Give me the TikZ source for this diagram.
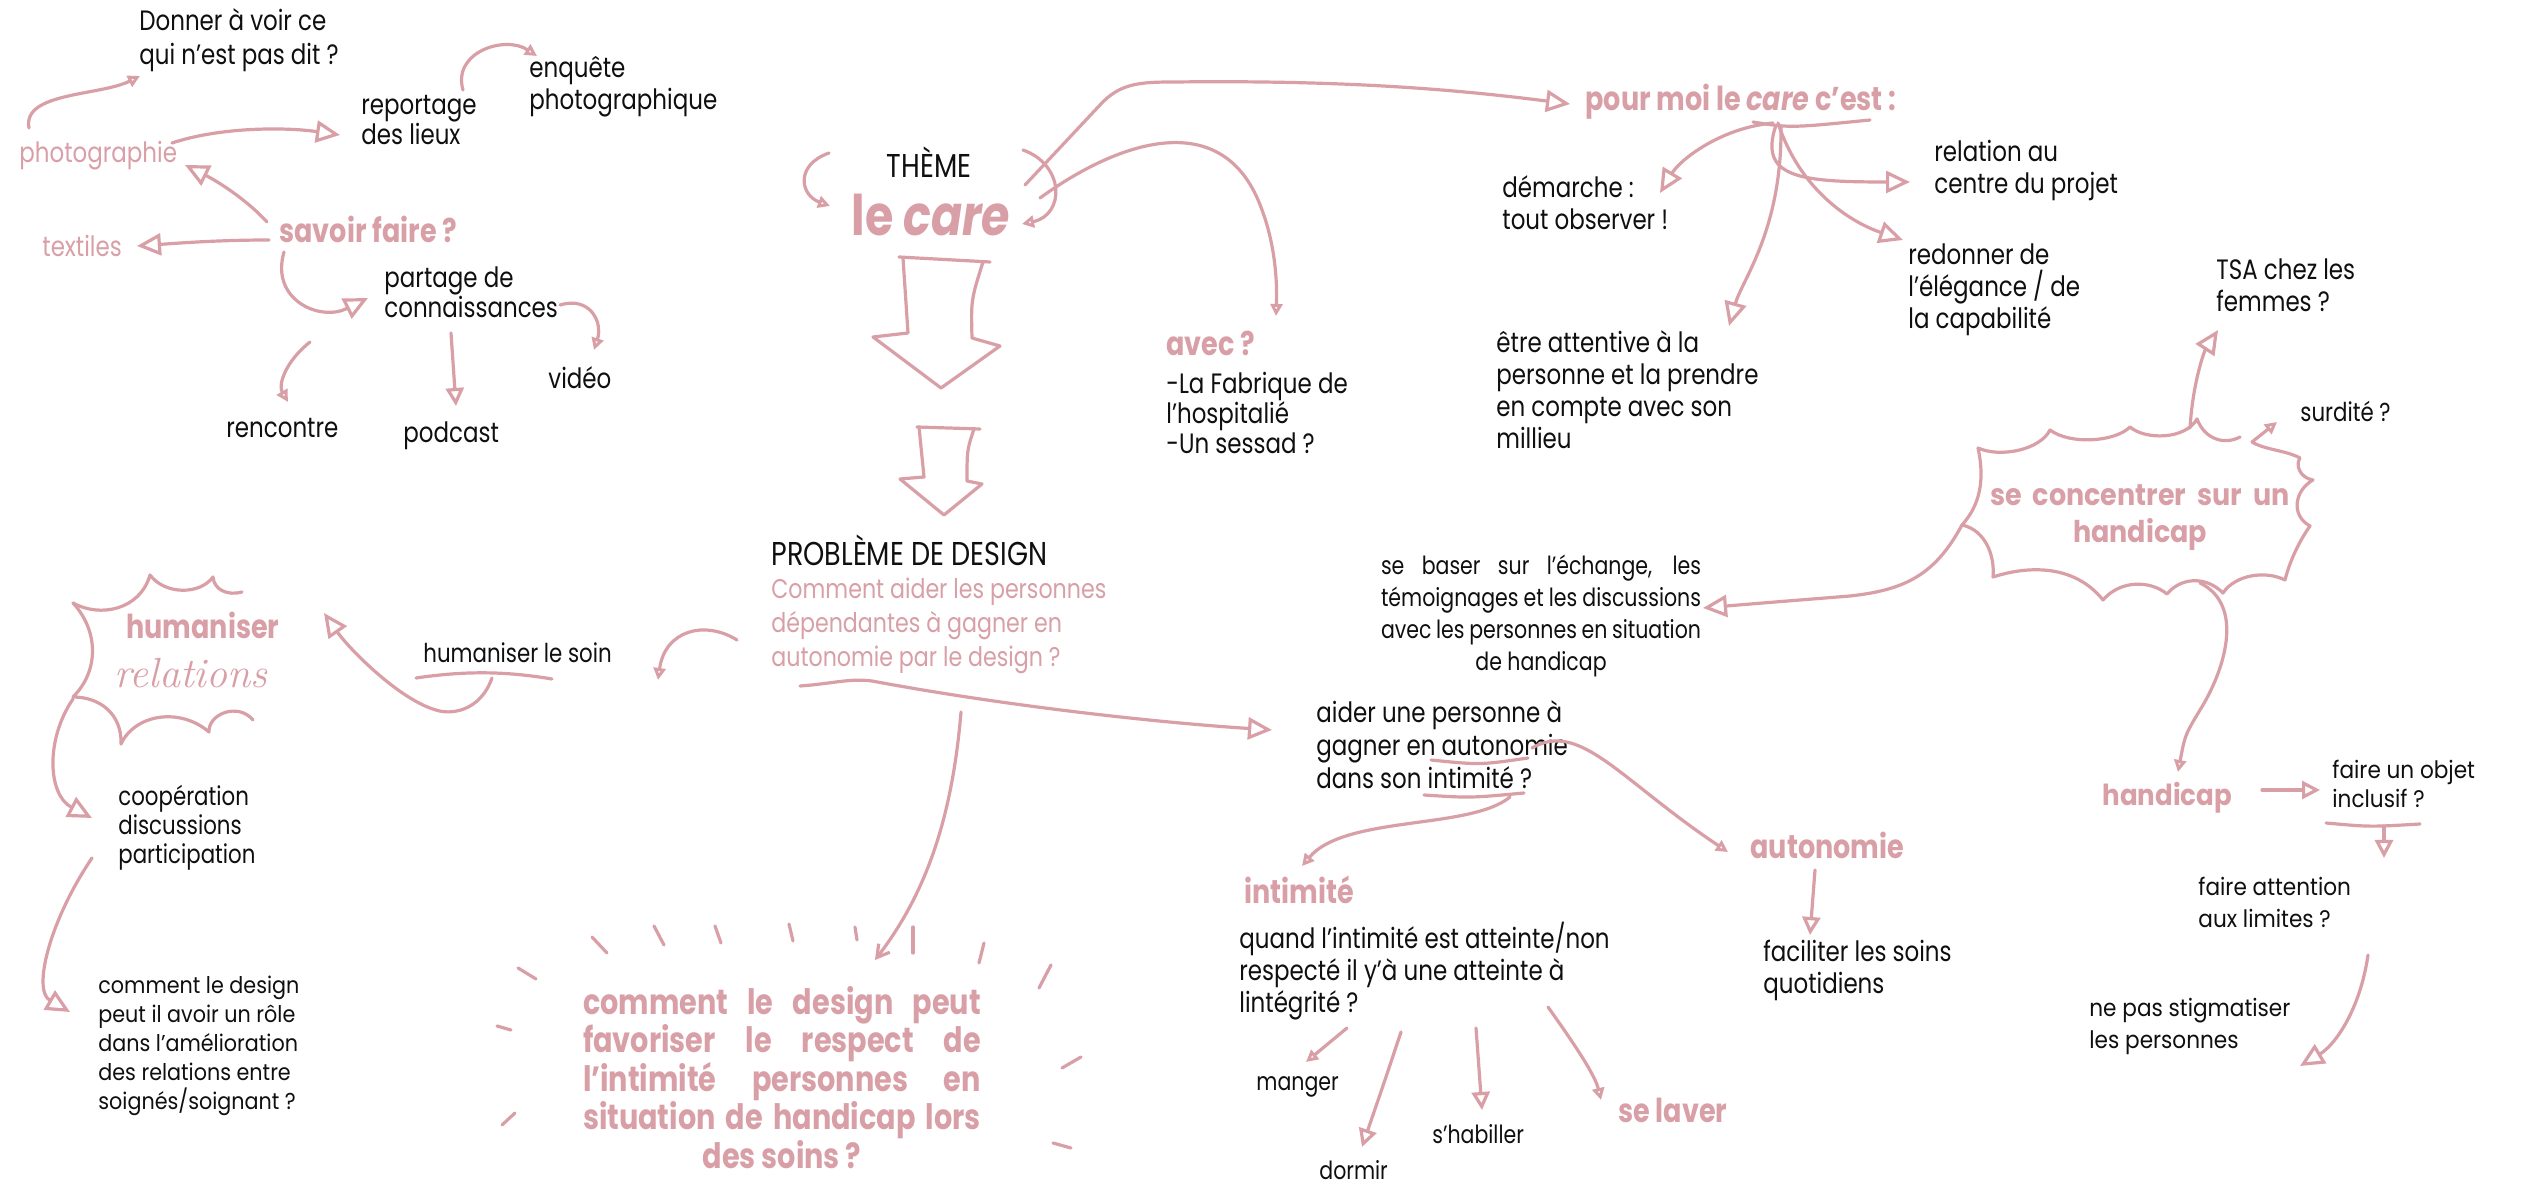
\documentclass[tikz,border=0pt]{standalone}
\usepackage{fontspec}
\newfontfamily\fc[FakeStretch=0.82]{Poppins}
\newfontfamily\fm[FakeStretch=0.9]{Poppins}
\usetikzlibrary{arrows.meta}
\definecolor{pk}{RGB}{217,159,167}
\definecolor{ink}{RGB}{15,15,15}
\tikzset{
  ln/.style={draw=pk, line width=1.6pt, line cap=round, line join=round},
  bigtip/.style={-{Triangle[open,length=12pt,width=11pt]}},
  midtip/.style={-{Triangle[open,length=9pt,width=9pt]}},
  smtip/.style={-{Triangle[open,length=6pt,width=6pt]}},
  vtip/.style={-{Straight Barb[length=6pt,width=7pt]}},
  tx/.style={inner sep=0pt, text=ink, align=left, font=\fc\fontsize{14}{16}\selectfont},
  txw/.style={inner sep=0pt, text=ink, align=left, font=\fm\fontsize{11.5}{14.5}\selectfont},
  pr/.style={inner sep=0pt, text=pk, align=left, font=\fc\fontsize{14}{17}\selectfont},
  pb/.style={inner sep=0pt, text=pk, align=left, font=\fc\bfseries\fontsize{16.5}{19}\selectfont},
  tick/.style={draw=pk, line width=1.6pt, line cap=round}
}
\begin{document}
\begin{tikzpicture}[x=0.5pt,y=-0.5pt]
\useasboundingbox (0,0) rectangle (2529,1186);
\fill[white] (0,0) rectangle (2529,1186);

% ---------- top-left cluster ----------
\node[tx, anchor=north west, font=\fc\fontsize{14}{17}\selectfont] (donner) at (139,8) {Donner à voir ce\\qui n’est pas dit ?};
\node[tx, anchor=north west, font=\fc\fontsize{14}{15}\selectfont] (reportage) at (361,95) {reportage\\des lieux};
\node[tx, anchor=north west] (enquete) at (529,56) {enquête\\photographique};
\node[pr, anchor=base west] (photo) at (19,163) {photographie};
\node[pb, anchor=base west] (savoir) at (279,243) {savoir faire ?};
\node[pr, anchor=base west] (textiles) at (42,257) {textiles};
\node[tx, anchor=north west, font=\fc\fontsize{14}{15}\selectfont] (partage) at (384,266) {partage de\\connaissances};
\node[tx, anchor=base west] (video) at (548,389) {vidéo};
\node[tx, anchor=base west] (rencontre) at (226,438) {rencontre};
\node[tx, anchor=base west] (podcast) at (403,443) {podcast};

\coordinate (a1s) at (29,128); \coordinate (a1e) at (140,76);
\draw[ln,smtip] (a1s) .. controls (22,92) and (100,96) .. (a1e);
\coordinate (a2s) at (172,143); \coordinate (a2e) at (340,135);
\draw[ln,bigtip] (a2s) .. controls (220,127) and (285,127) .. (a2e);
\coordinate (a3s) at (463,90); \coordinate (a3e) at (537,56);
\draw[ln,smtip] (a3s) .. controls (452,52) and (505,35) .. (a3e);
\coordinate (a4s) at (267,222); \coordinate (a4e) at (185,165);
\draw[ln,bigtip] (a4s) .. controls (245,198) and (215,180) .. (a4e);
\coordinate (a5s) at (269,240); \coordinate (a5e) at (137,246);
\draw[ln,bigtip] (a5s) .. controls (220,240) and (180,243) .. (a5e);
\coordinate (a6s) at (284,252); \coordinate (a6e) at (368,298);
\draw[ln,bigtip] (a6s) .. controls (270,300) and (320,322) .. (a6e);
\coordinate (a7s) at (560,305); \coordinate (a7e) at (594,350);
\draw[ln,smtip] (a7s) .. controls (590,296) and (603,322) .. (a7e);
\coordinate (a8s) at (310,342); \coordinate (a8e) at (288,402);
\draw[ln,smtip] (a8s) .. controls (285,362) and (278,385) .. (a8e);
\coordinate (a9s) at (451,333); \coordinate (a9e) at (456,406);
\draw[ln,midtip] (a9s) -- (a9e);

% ---------- centre ----------
\node[inner sep=0pt, text=ink, font=\fc\fontsize{16.5}{19}\selectfont, anchor=base] (theme) at (929,178) {THÈME};
\node[inner sep=0pt, text=pk, font=\fc\bfseries\fontsize{28}{30}\selectfont, anchor=base] (lecare) at (931,236) {le \textit{care}};

\coordinate (b1s) at (829,153); \coordinate (b1e) at (830,206);
\draw[ln,smtip] (b1s) .. controls (795,165) and (800,195) .. (b1e);
\coordinate (b2s) at (1023,150); \coordinate (b2e) at (1022,224);
\draw[ln,smtip] (b2s) .. controls (1065,165) and (1065,215) .. (b2e);

% big down arrows
\draw[ln] (899,257) -- (990,262);
\draw[ln] (903,258) .. controls (905,295) .. (908,333) -- (873,337) -- (941,388) -- (1000,346) -- (972,338) .. controls (971,300) .. (983,262);
\draw[ln] (917,427) -- (980,429);
\draw[ln] (919,427) -- (924,477) -- (900,479) -- (944,515) -- (982,484) -- (967,481) .. controls (967,450) .. (974,429);

\node[inner sep=0pt, text=ink, font=\fc\fontsize{16.5}{19}\selectfont, anchor=base west] (probleme) at (771,566) {PROBLÈME DE DESIGN};
\node[pr, anchor=north west, font=\fc\fontsize{13.5}{17}\selectfont] (comment) at (771,578) {Comment aider les personnes\\dépendantes à gagner en\\autonomie par le design ?};

\node[pb, anchor=base west] (avec) at (1166,356) {avec ?};
\node[tx, anchor=north west, font=\fc\fontsize{14}{15}\selectfont] (fabrique) at (1166,372) {-La Fabrique de\\l’hospitalié\\-Un sessad ?};

\coordinate (c1s) at (1025,185); \coordinate (c1e) at (1570,104);
\draw[ln,bigtip] (c1s) -- (1100,105) .. controls (1120,83) and (1140,82) .. (1175,82) .. controls (1350,80) and (1460,90) .. (c1e);
\coordinate (c2s) at (1040,198); \coordinate (c2e) at (1276,316);
\draw[ln,smtip] (c2s) .. controls (1120,140) and (1225,105) .. (1262,210) .. controls (1277,250) and (1277,290) .. (c2e);

% ---------- pour moi le care ----------
\node[pb, anchor=base west] (pourmoi) at (1585,111) {pour moi le \textit{care} c’est :};
\node[tx, anchor=north west] (demarche) at (1502,175) {démarche :\\tout observer !};
\node[tx, anchor=north west] (relation) at (1934,140) {relation au\\centre du projet};
\node[tx, anchor=north west] (redonner) at (1908,243) {redonner de\\l’élégance / de\\la capabilité};
\node[tx, anchor=north west] (etre) at (1496,330) {être attentive à la\\personne et la prendre\\en compte avec son\\millieu};

\coordinate (u1a) at (1753,122); \coordinate (u1b) at (1870,120);
\draw[ln] (u1a) .. controls (1790,128) .. (u1b);
\coordinate (d1s) at (1773,123); \coordinate (d1e) at (1660,193);
\draw[ln,bigtip] (d1s) .. controls (1720,128) and (1680,160) .. (d1e);
\coordinate (d2s) at (1776,125); \coordinate (d2e) at (1910,182);
\draw[ln,bigtip] (d2s) .. controls (1758,178) and (1800,182) .. (d2e);
\coordinate (d3s) at (1778,123); \coordinate (d3e) at (1903,240);
\draw[ln,bigtip] (d3s) .. controls (1800,190) and (1850,222) .. (d3e);
\coordinate (d4s) at (1781,127); \coordinate (d4e) at (1729,326);
\draw[ln,bigtip] (d4s) .. controls (1782,230) and (1742,280) .. (d4e);

% ---------- se concentrer cloud ----------
\node[tx, anchor=north west] (tsa) at (2216,258) {TSA chez les\\femmes ?};
\node[tx, anchor=base west, font=\fc\fontsize{13}{15}\selectfont] (surdite) at (2300,422) {surdité ?};
\node[inner sep=0pt, text=pk, align=center, font=\fm\bfseries\fontsize{15}{18.5}\selectfont, anchor=north] (cloudtxt) at (2140,484) {\makebox[150pt][s]{se concentrer sur un}\\handicap};
\draw[ln] (2240,437) .. controls (2225,445) and (2205,440) .. (2197,419)
  .. controls (2185,440) and (2145,440) .. (2130,427)
  .. controls (2115,442) and (2070,445) .. (2050,430)
  .. controls (2040,450) and (2000,458) .. (1978,448)
  .. controls (1985,480) and (1980,505) .. (1962,525)
  .. controls (1985,530) and (1995,555) .. (1993,577)
  .. controls (2030,565) and (2075,565) .. (2103,600)
  .. controls (2120,580) and (2150,580) .. (2167,594)
  .. controls (2180,578) and (2205,575) .. (2223,593)
  .. controls (2235,575) and (2265,570) .. (2285,580)
  .. controls (2290,560) and (2300,540) .. (2310,526)
  .. controls (2290,515) and (2295,490) .. (2313,480)
  .. controls (2300,478) and (2295,465) .. (2300,458)
  .. controls (2285,450) and (2265,450) .. (2252,442);
\coordinate (e1s) at (2190,428); \coordinate (e1e) at (2218,330);
\draw[ln,bigtip] (e1s) .. controls (2193,380) and (2205,350) .. (e1e);
\coordinate (e2s) at (2252,442); \coordinate (e2e) at (2277,422);
\draw[ln,smtip] (e2s) -- (e2e);

\node[inner sep=0pt, text=ink, align=center, font=\fc\fontsize{12.5}{16}\selectfont, anchor=north] (sebaser) at (1541,555) {\makebox[160pt][s]{se baser sur l’échange, les}\\\makebox[160pt][s]{témoignages et les discussions}\\\makebox[160pt][s]{avec les personnes en situation}\\de handicap};
\coordinate (e3s) at (1962,525); \coordinate (e3e) at (1703,608);
\draw[ln,bigtip] (e3s) .. controls (1935,575) and (1905,590) .. (1850,596) .. controls (1800,600) and (1750,604) .. (e3e);

\node[inner sep=0pt, text=pk, font=\fm\bfseries\fontsize{14.5}{17}\selectfont, anchor=base west] (handicap) at (2102,806) {handicap};
\coordinate (e4s) at (2200,583); \coordinate (e4e) at (2178,772);
\draw[ln,smtip] (e4s) .. controls (2245,605) and (2225,670) .. (2200,710) .. controls (2185,735) .. (e4e);
\node[txw, anchor=north west, font=\fm\fontsize{12}{14.5}\selectfont] (objet) at (2332,760) {faire un objet\\inclusif ?};
\node[txw, anchor=north west, font=\fm\fontsize{12}{16}\selectfont] (attention) at (2198,877) {faire attention\\aux limites ?};
\node[txw, anchor=north west, font=\fm\fontsize{12}{16}\selectfont] (stigmat) at (2089,998) {ne pas stigmatiser\\les personnes};
\coordinate (f1s) at (2262,790); \coordinate (f1e) at (2320,790);
\draw[ln,midtip] (f1s) -- (f1e);
\coordinate (u2a) at (2326,823); \coordinate (u2b) at (2420,824);
\draw[ln] (u2a) .. controls (2370,827) .. (u2b);
\coordinate (f2s) at (2384,826); \coordinate (f2e) at (2384,858);
\draw[ln,midtip] (f2s) -- (f2e);
\coordinate (f3s) at (2368,955); \coordinate (f3e) at (2300,1066);
\draw[ln,bigtip] (f3s) .. controls (2360,1010) and (2335,1045) .. (f3e);

% ---------- aider / intimité / autonomie ----------
\coordinate (g1s) at (800,686); \coordinate (g1e) at (1272,730);
\draw[ln,bigtip] (g1s) .. controls (830,684) and (850,678) .. (872,681) .. controls (1000,705) and (1150,722) .. (g1e);
\node[tx, anchor=north west, font=\fc\fontsize{14}{16.5}\selectfont] (aider) at (1316,700) {aider une personne à\\gagner en autonomie\\dans son intimité ?};
\coordinate (u3a) at (1431,760); \coordinate (u3b) at (1528,758);
\draw[ln] (u3a) .. controls (1480,765) .. (u3b);
\coordinate (u4a) at (1424,795); \coordinate (u4b) at (1524,793);
\draw[ln] (u4a) .. controls (1470,798) .. (u4b);
\node[pb, anchor=base west] (autonomie) at (1750,859) {autonomie};
\node[tx, anchor=north west] (faciliter) at (1763,940) {faciliter les soins\\quotidiens};
\node[pb, anchor=base west] (intimite) at (1244,904) {intimité};
\node[tx, anchor=north west] (quand) at (1239,922) {quand l’intimité est atteinte/non\\respecté il y’à une atteinte à\\lintégrité ?};
\node[tx, anchor=base west, font=\fc\fontsize{12.5}{15}\selectfont] (manger) at (1256,1090) {manger};
\node[tx, anchor=base west, font=\fc\fontsize{12.5}{15}\selectfont] (dormir) at (1319,1179) {dormir};
\node[tx, anchor=base west, font=\fc\fontsize{12.5}{15}\selectfont] (shabiller) at (1432,1143) {s’habiller};
\node[pb, anchor=base west] (selaver) at (1618,1122) {se laver};

\coordinate (h1s) at (1532,748); \coordinate (h1e) at (1728,852);
\draw[ln,smtip] (h1s) .. controls (1580,720) and (1620,780) .. (h1e);
\coordinate (h2s) at (1510,797); \coordinate (h2e) at (1302,866);
\draw[ln,smtip] (h2s) .. controls (1470,830) and (1345,815) .. (h2e);
\coordinate (h3s) at (1815,870); \coordinate (h3e) at (1810,935);
\draw[ln,midtip] (h3s) -- (h3e);
\coordinate (h4s) at (1347,1028); \coordinate (h4e) at (1306,1062);
\draw[ln,smtip] (h4s) -- (h4e);
\coordinate (h5s) at (1401,1032); \coordinate (h5e) at (1362,1147);
\draw[ln,midtip] (h5s) .. controls (1385,1080) .. (h5e);
\coordinate (h6s) at (1476,1028); \coordinate (h6e) at (1482,1110);
\draw[ln,midtip] (h6s) -- (h6e);
\coordinate (h7s) at (1548,1007); \coordinate (h7e) at (1601,1100);
\draw[ln,smtip] (h7s) .. controls (1575,1045) and (1595,1075) .. (h7e);

% ---------- left: humaniser ----------
\node[tx, anchor=base west, font=\fc\fontsize{13}{15}\selectfont] (humsoin) at (423,663) {humaniser le soin};
\coordinate (i1s) at (737,640); \coordinate (i1e) at (658,680);
\draw[ln,smtip] (i1s) .. controls (705,620) and (665,630) .. (i1e);
\coordinate (u5a) at (416,678); \coordinate (u5b) at (552,679);
\draw[ln] (u5a) .. controls (470,670) and (510,672) .. (u5b);
\coordinate (i2s) at (492,678); \coordinate (i2e) at (324,613);
\draw[ln,bigtip] (i2s) .. controls (480,712) and (450,715) .. (436,710) .. controls (400,700) and (350,650) .. (i2e);

\node[pb, anchor=base west] (humaniser) at (126,639) {humaniser};
\node[inner sep=0pt, text=pk, font=\rmfamily\itshape\fontsize{21}{22}\selectfont, anchor=base west] (relations) at (114,688) {relations};
\draw[ln] (73,603) .. controls (100,618) and (140,610) .. (150,575) .. controls (165,595) and (200,595) .. (213,577) .. controls (214,590) and (228,596) .. (242,592);
\draw[ln] (73,603) .. controls (98,630) and (100,670) .. (73,697) .. controls (100,697) and (122,714) .. (121,744) .. controls (135,714) and (180,707) .. (209,732) .. controls (208,714) and (238,702) .. (253,720);

\node[tx, anchor=north west, font=\fc\fontsize{13}{14.5}\selectfont] (coop) at (118,785) {coopération\\discussions\\participation};
\node[txw, anchor=north west] (cdesign) at (98,976) {comment le design\\peut il avoir un rôle\\dans l’amélioration\\des relations entre\\soignés/soignant ?};
\coordinate (j1s) at (73,699); \coordinate (j1e) at (92,818);
\draw[ln,bigtip] (j1s) .. controls (45,740) and (48,795) .. (j1e);
\coordinate (j2s) at (92,858); \coordinate (j2e) at (70,1012);
\draw[ln,bigtip] (j2s) .. controls (50,920) and (32,990) .. (j2e);

% ---------- burst ----------
\node[inner sep=0pt, text=pk, align=center, font=\fc\bfseries\fontsize{17.5}{19.25}\selectfont, anchor=north] (burst) at (782,986) {\makebox[199pt][s]{comment le design peut}\\\makebox[199pt][s]{favoriser le respect de}\\\makebox[199pt][s]{l’intimité personnes en}\\\makebox[199pt][s]{situation de handicap lors}\\des soins ?};
\coordinate (k1s) at (961,712); \coordinate (k1e) at (875,960);
\draw[ln,vtip] (k1s) .. controls (952,820) and (925,895) .. (k1e);
\draw[tick] (518,968) -- (536,979);
\draw[tick] (592,937) -- (607,953);
\draw[tick] (654,926) -- (664,945);
\draw[tick] (715,926) -- (721,943);
\draw[tick] (789,924) -- (793,941);
\draw[tick] (855,927) -- (857,940);
\draw[tick] (913,927) -- (913,953);
\draw[tick] (984,943) -- (979,963);
\draw[tick] (1051,965) -- (1039,988);
\draw[tick] (1081,1057) -- (1062,1068);
\draw[tick] (1053,1143) -- (1071,1148);
\draw[tick] (497,1026) -- (511,1030);
\draw[tick] (515,1113) -- (502,1125);
\end{tikzpicture}
\end{document}
